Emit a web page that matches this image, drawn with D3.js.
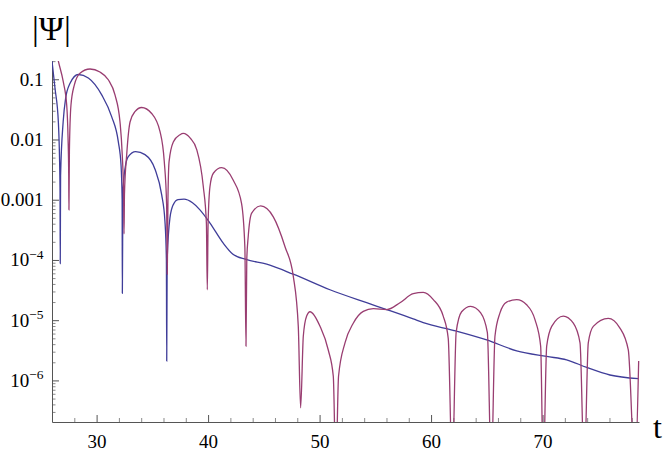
<!DOCTYPE html>
<html>
<head>
<meta charset="utf-8">
<script src="https://cdn.jsdelivr.net/npm/d3@7"></script>
<style>
  html, body { margin: 0; padding: 0; background: #fff; }
  svg text { font-family: "Liberation Serif", "Times New Roman", serif; fill: #000; }
</style>
</head>
<body>
<div id="chart"></div>
<script>
const width = 667;
const height = 453;

// first curve (blue)
const tBlue = [26.0, 26.27, 26.57, 26.72, 26.74, 26.77, 27.0, 27.22, 27.61, 28.36, 29.26, 30.46, 31.35, 31.95, 32.19, 32.29, 32.31, 32.36,
  32.55, 32.84, 33.5, 34.34, 35.24, 35.84, 36.13, 36.26, 36.29, 36.33, 36.58, 36.88, 37.3, 37.84, 38.6, 39.27, 40.17, 41.36, 42.2,
  43.4, 45.26, 47.64, 50.93, 54.22, 56.02, 58.4, 59.3, 61.99, 64.99, 67.68, 70.37, 72.16, 73.96, 76.04, 78.6];
const psiBlue = [0.20, 0.071, 0.0195, 1.6e-3, 8.7e-5, 2.5e-3, 0.0195, 0.048, 0.085, 0.12, 0.105, 0.055, 0.024, 9.1e-3, 3.8e-3, 1.0e-3, 2.8e-5, 1.26e-3,
  3.3e-3, 5.2e-3, 6.3e-3, 5.6e-3, 3.2e-3, 1.2e-3, 4.4e-4, 1.0e-4, 2.1e-6, 1.0e-4, 5.0e-4, 8.3e-4, 1.0e-3, 1.02e-3, 8.9e-4, 6.8e-4, 4.1e-4, 1.9e-4, 1.26e-4,
  1.02e-4, 8.5e-5, 5.8e-5, 3.2e-5, 1.95e-5, 1.5e-5, 1.05e-5, 9.1e-6, 6.8e-6, 4.7e-6, 3.1e-6, 2.5e-6, 2.2e-6, 1.64e-6, 1.23e-6, 1.07e-6];

// second curve (purple)
const tPurple = [26.4, 26.57, 27.01, 27.32, 27.44, 27.5, 27.52, 27.56, 27.7, 28.0, 28.51, 29.41, 30.3, 31.05, 31.65, 32.1, 32.3, 32.42, 32.46, 32.5,
  32.7, 33.0, 33.44, 34.04, 34.94, 35.69, 36.07, 36.28, 36.34, 36.4, 36.5, 36.88, 37.48, 37.78, 38.4, 38.98, 39.57, 39.85, 39.93, 40.0,
  40.17, 40.47, 41.22, 42.26, 43.0, 43.3, 43.4, 43.47, 43.6, 43.91, 44.72, 45.85, 46.9, 47.64, 48.09, 48.3, 48.54, 48.84, 49.14, 50.04,
  50.78, 51.23, 51.46, 51.7, 52.28, 53.02, 53.92, 54.82, 56.02, 57.21, 58.4, 59.3, 60.2, 61.09, 61.54, 61.9, 62.25, 62.74, 63.55, 64.45,
  65.05, 65.4, 65.73, 66.18, 66.78, 67.68, 68.57, 69.32, 69.83, 70.06, 70.37, 70.82, 71.86, 72.76, 73.36, 73.74, 74.1, 74.55, 75.89, 76.94,
  77.69, 78.29, 78.62];
const psiPurple = [0.28, 0.20, 0.091, 0.037, 0.0105, 2.5e-3, 6.8e-4, 6.3e-3, 0.037, 0.080, 0.126, 0.148, 0.132, 0.098, 0.055, 0.0195, 5.6e-3, 1.26e-3, 2.7e-4, 1.26e-3,
  5.6e-3, 0.0195, 0.029, 0.034, 0.027, 0.0135, 4.3e-3, 8.3e-4, 5.8e-5, 1.0e-3, 4.3e-3, 9.1e-3, 0.012, 0.0126, 0.0105, 6.8e-3, 1.66e-3, 4.0e-4, 3.2e-5, 4.0e-4,
  1.66e-3, 2.75e-3, 3.4e-3, 2.1e-3, 8.7e-4, 1.6e-4, 3.7e-6, 1.0e-4, 2.45e-4, 6.0e-4, 7.9e-4, 5.2e-4, 1.66e-4, 5.4e-5, 7.9e-6, 3.5e-7, 5.4e-6, 1.17e-5, 1.38e-5, 7.9e-6,
  3.2e-6, 1.17e-6, 3e-8, 1.17e-6, 4.2e-6, 8.9e-6, 1.4e-5, 1.55e-5, 1.5e-5, 1.95e-5, 2.75e-5, 2.9e-5, 2.2e-5, 1.17e-5, 5.0e-6, 3e-8, 6.3e-6, 1.38e-5, 1.7e-5, 1.32e-5,
  6.2e-6, 3e-8, 5.4e-6, 1.32e-5, 2.0e-5, 2.2e-5, 1.8e-5, 1.02e-5, 3.7e-6, 3e-8, 3.7e-6, 7.9e-6, 1.17e-5, 8.9e-6, 4.2e-6, 3e-8, 4.2e-6, 7.9e-6, 1.07e-5, 7.4e-6,
  3.2e-6, 3e-8, 2.1e-6];

// ticks
const xMajor = [30, 40, 50, 60, 70];
const xMinor = [28, 32, 34, 36, 38, 42, 44, 46, 48, 52, 54, 56, 58, 62, 64, 66, 68, 72, 74, 76, 78];
const yMajor = [1e-1, 1e-2, 1e-3, 1e-4, 1e-5, 1e-6];
const yMajorBase = ["0.1", "0.01", "0.001", "10", "10", "10"];
const yMajorExp = ["", "", "", "\u22124", "\u22125", "\u22126"];

const xScale = d3.scaleLinear().domain([26, 78.65]).range([52, 639]);
const yScale = d3.scaleLog().domain([2.04e-7, 0.201]).range([422, 61]);

const yMinor = [];
for (let e = -7; e <= -1; e++) {
  for (let m = 2; m <= 9; m++) {
    const v = m * Math.pow(10, e);
    if (v > yScale.domain()[0] && v < yScale.domain()[1]) yMinor.push(v);
  }
}

const svg = d3.select("#chart").append("svg")
  .attr("width", width).attr("height", height);

svg.append("defs").append("clipPath").attr("id", "plotclip")
  .append("rect").attr("x", 52).attr("y", 61).attr("width", 590).attr("height", 361);

// minor ticks
svg.append("g")
  .attr("transform", `translate(0,${yScale.range()[0]})`)
  .call(d3.axisBottom(xScale).tickValues(xMinor).tickFormat("").tickSizeInner(-4).tickSizeOuter(0))
  .call(g => g.select(".domain").remove())
  .call(g => g.selectAll("line").attr("stroke", "#8a8a8a"));

svg.append("g")
  .attr("transform", `translate(${xScale.range()[0]},0)`)
  .call(d3.axisLeft(yScale).tickValues(yMinor).tickFormat("").tickSizeInner(-3.5).tickSizeOuter(0))
  .call(g => g.select(".domain").remove())
  .call(g => g.selectAll("line").attr("stroke", "#8a8a8a"));

// major x axis
const xAxis = svg.append("g")
  .attr("transform", `translate(0,${yScale.range()[0]})`)
  .call(d3.axisBottom(xScale).tickValues(xMajor).tickFormat(d => d).tickSizeInner(-7).tickSizeOuter(0).tickPadding(13));
xAxis.select(".domain").attr("stroke", "#555");
xAxis.selectAll("line").attr("stroke", "#555");
xAxis.selectAll("text").attr("font-size", 19).attr("font-family", "Liberation Serif, serif").attr("fill", "#000");

// major y axis
const yAxis = svg.append("g")
  .attr("transform", `translate(${xScale.range()[0]},0)`)
  .call(d3.axisLeft(yScale).tickValues(yMajor).tickFormat("").tickSizeInner(-7).tickSizeOuter(0));
yAxis.select(".domain").attr("stroke", "#555");
yAxis.selectAll("line").attr("stroke", "#555");

yMajor.forEach((v, i) => {
  const t = svg.append("text")
    .attr("x", 43.5)
    .attr("y", yScale(v) + 6.5)
    .attr("text-anchor", "end")
    .attr("font-size", 19);
  t.append("tspan").text(yMajorBase[i]);
  if (yMajorExp[i]) {
    t.append("tspan").attr("font-size", 13.5).attr("dy", -7.5).text(yMajorExp[i]);
  }
});

// curves
const line = d3.line()
  .x(d => xScale(d[0]))
  .y(d => yScale(d[1]))
  .curve(d3.curveMonotoneX);

const plot = svg.append("g").attr("clip-path", "url(#plotclip)");

plot.append("path")
  .datum(d3.zip(tBlue, psiBlue))
  .attr("fill", "none")
  .attr("stroke", "#3f3d99")
  .attr("stroke-width", 1.3)
  .attr("d", line);

plot.append("path")
  .datum(d3.zip(tPurple, psiPurple))
  .attr("fill", "none")
  .attr("stroke", "#993d71")
  .attr("stroke-width", 1.3)
  .attr("d", line);

// axis labels
svg.append("text").attr("x", 32).attr("y", 39.5).attr("font-size", 34).text("|\u03A8|");
svg.append("text").attr("x", 653).attr("y", 438).attr("font-size", 32).text("t");
</script>
</body>
</html>
